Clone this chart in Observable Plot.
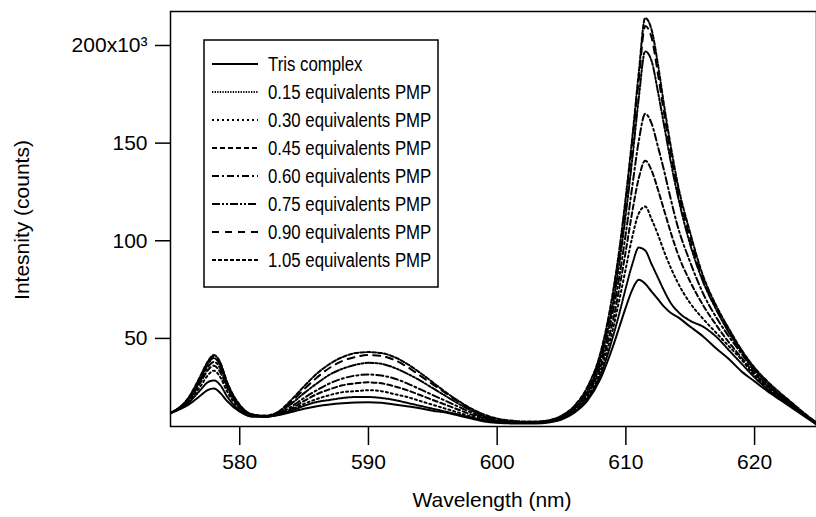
<!DOCTYPE html>
<html><head><meta charset="utf-8">
<script src="https://cdn.jsdelivr.net/npm/d3@7"></script>
<script src="https://cdn.jsdelivr.net/npm/@observablehq/plot@0.6"></script>
<style>body{margin:0;background:#fff} svg{display:block}</style>
</head><body><div id="chart"></div>
<script>
const wavelength = [574.7,576,577,577.5,578,578.5,579,580,581,582,583,584,585,586,587,588,589,590,591,592,593,594,595,596,597,598,599,600,601,602,603,604,605,606,607,608,608.5,609,609.5,610,610.5,611,611.5,612,612.5,613,613.5,614,615,616,617,618,619,620,621,622,623,624,625];

const tris = [12,16,21,23.5,24.3,22,18,
  12.5,10,10,10.8,12.3,14,15.3,16.2,16.8,17.2,17.3,17,16.2,15.3,14.3,13,12,10.5,9,7.5,6.8,6.5,6.5,6.5,7,8.5,12,18,29,
  37,46,56,66,75,80,78,74,70,66,63,61,
  56,51,45,39.5,33,28,23,18.5,14,9.5,5];
const eq015 = [12,17,24,27.5,28.5,26,20.5,
  13,10,10,11,13,15.5,17.5,18.5,19.5,20,20,19.5,18.5,17,15.5,14,12.5,11,9.5,8,7,6.8,6.8,6.8,7.2,8.8,12.5,19,31,
  40,51,63,76,88,96.5,95,88,81,74,68,64,
  59,56,51,44,37,30,24,19,14.5,10,5.5];
const eq030 = [12,17.5,26,31,33.5,30,23,
  14,10.5,10,11,13.5,16.5,19,21,22.5,23,23.5,23,21.5,20,18,16,14,12,10,8.5,7.5,7,7,7,7.5,9,13,20,33,
  43,55,70,86,102,114,117.5,111,103,94,86,79,
  68,60,53,46,39,31,25,19.5,15,10,5.5];
const eq045 = [12,18,28,33.5,36,32.5,25,
  14.5,10.5,10,11,14,18,21.5,24,26,27,27.5,27,25.5,23.5,21,18.5,16,13.5,11,9,7.5,7,7,7,7.5,9,13.5,21,35,
  46,59,76,95,115,132,141,136,126,115,104,94,
  79,67,57,48,40,32,25.5,20,15,10,5.5];
const eq060 = [12,18.5,29,35,38,34.5,26,
  15,10.5,10,11.5,15,19.5,23.5,27,29.5,31,31.5,31,29.5,27,24,21,18,15,12,9.5,8,7,7,7,7.5,9.5,14,22,37,
  49,64,82,104,128,151,165,160,148,135,121,108,
  89,73,61,51,42,33,26,20.5,15.5,10.5,6];
const eq075 = [12,19,30,36.5,40,36,27,
  15.5,11,10,12,16.5,22,27,31.5,34.5,36.5,37.5,37,35,32,28.5,24.5,20.5,16.5,13,10,8,7.5,7,7,8,10,14.5,23,39,
  52,68,89,114,142,173,197,192,176,158,140,124,
  98,79,65,53,43,34,27,21,16,10.5,6];
const eq090 = [12,19,31,37.5,41,37,27.5,
  15.5,11,10,12,17.5,24,30,35,38.5,40.5,41.5,41,39,35.5,31,26.5,22,17.5,13.5,10.5,8.5,7.5,7,7,8,10,15,24,40,
  54,71,93,120,150,182,210,204,185,164,144,127,
  101,80,66,54,43.5,34.5,27.5,21.5,16,10.5,6];
const eq105 = [12,19.5,31.5,38,41.5,37.5,28,
  16,11,10.5,12.5,18.5,25.5,32,37,40.5,42.5,43,42.5,40.5,37,32.5,27.5,22.5,18,14,11,9,8,7.5,7.5,8,10.5,15.5,25,42,
  56,74,96,123,153,186,214,208,190,168,148,130,
  104,82,67,55,44,35,28,22,16.5,11,6];

const seriesNames = ["Tris complex","0.15 equivalents PMP","0.30 equivalents PMP","0.45 equivalents PMP","0.60 equivalents PMP","0.75 equivalents PMP","0.90 equivalents PMP","1.05 equivalents PMP"];
const seriesValues = [tris, eq015, eq030, eq045, eq060, eq075, eq090, eq105];
const dashes = [null,"1.3,1.3","2,3","5,3","7,3,2,3","8,2,2,2,2,2","7,6","4,2"];
const xTicks = [580,590,600,610,620];
const yTicks = [50,100,150,200];
const xTitle = "Wavelength (nm)";
const yTitle = "Intesnity (counts)";
const FONT = "'Liberation Sans', Arial, Helvetica, sans-serif";

const lineMarks = seriesNames.map((name, i) => {
  const data = wavelength.map((w, j) => ({w, v: seriesValues[i][j], name}));
  const opts = {x: "w", y: "v", stroke: "#000", strokeWidth: 2, curve: "monotone-x", clip: true};
  if (dashes[i]) opts.strokeDasharray = dashes[i];
  return Plot.line(data, opts);
});

const chart = Plot.plot({
  width: 816, height: 517,
  marginLeft: 170, marginRight: 0, marginTop: 11, marginBottom: 91,
  style: {fontFamily: FONT, fontSize: "21px", color: "#000", background: "#fff"},
  x: {domain: [574.62, 624.81], ticks: xTicks, tickSize: 19, tickPadding: 9, label: null},
  y: {domain: [4.9, 217.4], ticks: yTicks, tickSize: 15, tickPadding: 8, label: null,
      tickFormat: d => d === 200 ? "200x10³" : String(d)},
  marks: [
    ...lineMarks,
    Plot.frame({stroke: "#000", strokeWidth: 1.5})
  ]
});
document.getElementById("chart").appendChild(chart);

const svg = d3.select(chart);
svg.selectAll("g[aria-label='x-axis tick'] path, g[aria-label='y-axis tick'] path").attr("stroke-width", 1.5);

// axis titles
svg.append("text").attr("x", 492).attr("y", 507).attr("text-anchor", "middle")
  .attr("font-family", FONT).attr("font-size", 21).attr("fill", "#000").text(xTitle);
svg.append("text").attr("transform", "translate(29,220) rotate(-90)").attr("text-anchor", "middle")
  .attr("font-family", FONT).attr("font-size", 21).attr("fill", "#000").text(yTitle);

// legend
const lg = svg.append("g").attr("font-family", FONT).attr("font-size", 21).attr("text-anchor", "start");
lg.append("rect").attr("x", 204).attr("y", 40).attr("width", 234).attr("height", 247)
  .attr("fill", "#fff").attr("stroke", "#000").attr("stroke-width", 1.5);
seriesNames.forEach((name, i) => {
  const y = 64 + i * 28;
  const l = lg.append("line").attr("x1", 212).attr("x2", 258).attr("y1", y).attr("y2", y)
    .attr("stroke", "#000").attr("stroke-width", 2);
  if (dashes[i]) l.attr("stroke-dasharray", dashes[i]);
  lg.append("g").attr("transform", `translate(268,${y}) scale(0.8,1)`)
    .append("text").attr("x", 0).attr("y", 0).attr("dy", "0.35em").attr("fill", "#000").text(name);
});
</script>
</body></html>
